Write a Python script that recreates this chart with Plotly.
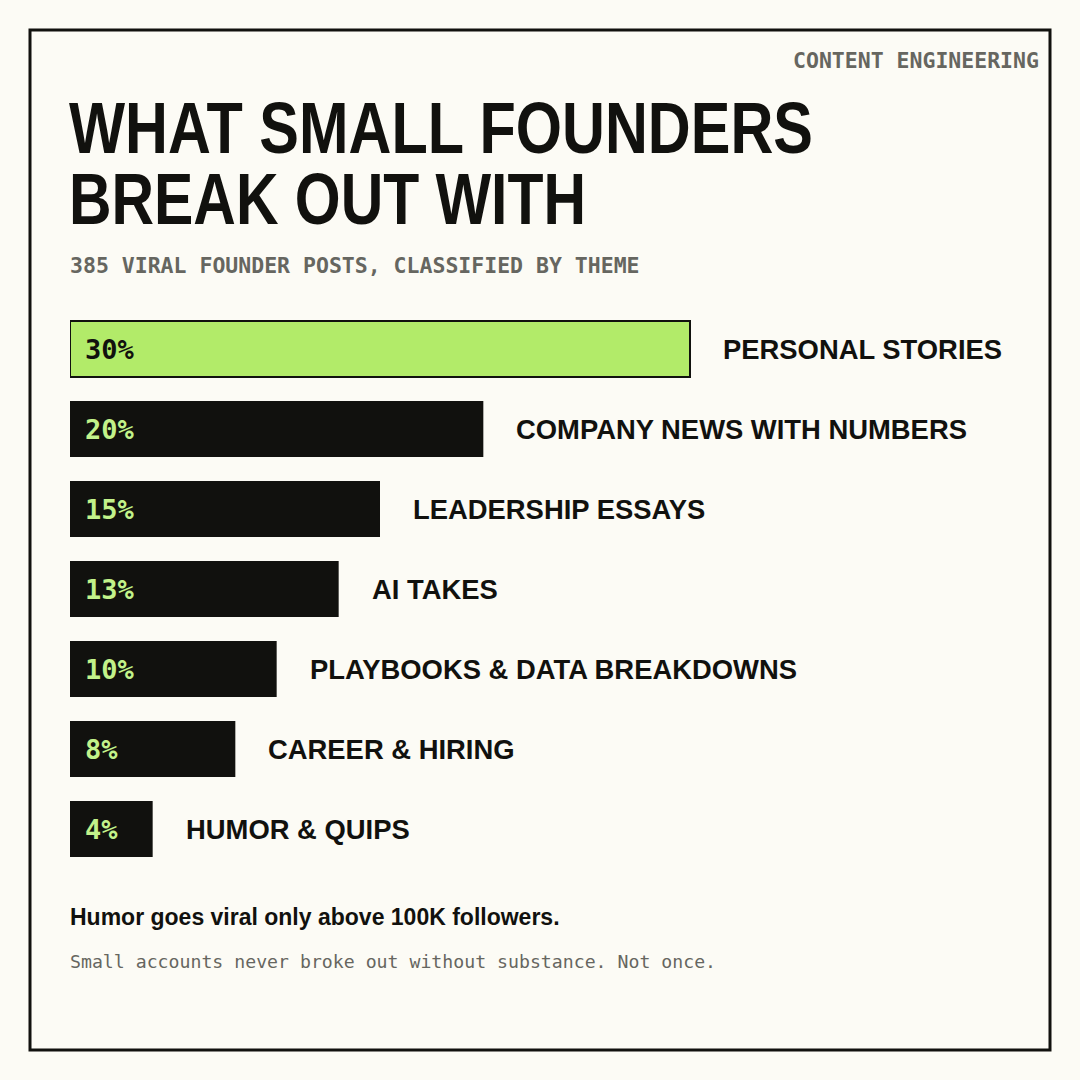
import plotly.graph_objects as go

# data
themes = ["PERSONAL STORIES", "COMPANY NEWS WITH NUMBERS", "LEADERSHIP ESSAYS", "AI TAKES",
          "PLAYBOOKS & DATA BREAKDOWNS", "CAREER & HIRING", "HUMOR & QUIPS"]
shares = [30, 20, 15, 13, 10, 8, 4]
pct_labels = ["30%", "20%", "15%", "13%", "10%", "8%", "4%"]
title_lines = ["WHAT SMALL FOUNDERS", "BREAK OUT WITH"]

BG = "#fcfbf5"
INK = "#11110e"
GREEN = "#b2eb69"
LIGHT_GREEN = "#c2f28a"
GRAY = "#666660"
SANS = "Liberation Sans, Arial, sans-serif"
MONO = "DejaVu Sans Mono, monospace"

W = H = 1080
def px(v):  # pixel -> paper (x)
    return v / W
def py(v):  # pixel -> paper (y), from top
    return 1 - v / H

ys = list(range(len(themes)))
fill = [GREEN] + [INK] * (len(themes) - 1)
line_w = [2] + [0] * (len(themes) - 1)

fig = go.Figure(go.Bar(
    x=shares, y=ys, orientation="h", width=0.7,
    marker=dict(color=fill, line=dict(color=INK, width=line_w)),
    hoverinfo="skip",
))

# px per percent: 620px for 30%
scale = 620 / 30
plot_l, plot_r = 70, 1040
plot_t, plot_b = 309, 869

annos = []
for i, (v, t, p) in enumerate(zip(shares, themes, pct_labels)):
    annos.append(dict(x=0, y=i, xref="x", yref="y", text=p, showarrow=False,
                      xanchor="left", yanchor="middle", xshift=13,
                      font=dict(family=MONO, size=27, color=INK if i == 0 else LIGHT_GREEN, weight="bold")))
    annos.append(dict(x=v, y=i, xref="x", yref="y", text=t, showarrow=False,
                      xanchor="left", yanchor="middle", xshift=31,
                      font=dict(family=SANS, size=27.4, color=INK, weight="bold")))

# texts
annos += [
    dict(x=px(1041), y=py(61), xref="paper", yref="paper", text="CONTENT ENGINEERING",
         showarrow=False, xanchor="right", yanchor="middle",
         font=dict(family=MONO, size=21.5, color=GRAY, weight="bold")),
    dict(x=px(67), y=py(128), xref="paper", yref="paper", text=title_lines[0],
         showarrow=False, xanchor="left", yanchor="middle", align="left",
         font=dict(family=SANS, size=72, color=INK, weight="bold")),
    dict(x=px(67), y=py(199), xref="paper", yref="paper", text=title_lines[1],
         showarrow=False, xanchor="left", yanchor="middle", align="left",
         font=dict(family=SANS, size=72, color=INK, weight="bold")),
    dict(x=px(68), y=py(266), xref="paper", yref="paper",
         text="385 VIRAL FOUNDER POSTS, CLASSIFIED BY THEME",
         showarrow=False, xanchor="left", yanchor="middle",
         font=dict(family=MONO, size=21.5, color=GRAY, weight="bold")),
    dict(x=px(68), y=py(917), xref="paper", yref="paper",
         text="Humor goes viral only above 100K followers.",
         showarrow=False, xanchor="left", yanchor="middle",
         font=dict(family=SANS, size=23, color=INK, weight="bold")),
    dict(x=px(68), y=py(961), xref="paper", yref="paper",
         text="Small accounts never broke out without substance. Not once.",
         showarrow=False, xanchor="left", yanchor="middle",
         font=dict(family=MONO, size=18.2, color=GRAY)),
]

fig.update_layout(
    width=W, height=H,
    margin=dict(l=0, r=0, t=0, b=0),
    paper_bgcolor=BG, plot_bgcolor=BG,
    showlegend=False,
    annotations=annos,
    xaxis=dict(domain=[px(plot_l), px(plot_r)], range=[0, (plot_r - plot_l) / scale],
               visible=False, fixedrange=True),
    yaxis=dict(domain=[py(plot_b), py(plot_t)], range=[len(themes) - 0.5, -0.5],
               visible=False, fixedrange=True),
    shapes=[dict(type="rect", xref="paper", yref="paper",
                 x0=px(30), x1=px(1050), y0=py(30), y1=py(1050),
                 line=dict(color=INK, width=3), fillcolor="rgba(0,0,0,0)", layer="above")],
)

# no narrow bold face installed -> squeeze the headline lines to the condensed width
post = """
document.body.style.margin = '0';
var gd = document.getElementById('{plot_id}');
function squeeze() {
  var widths = {'WHAT SMALL FOUNDERS': 744, 'BREAK OUT WITH': 517};
  gd.querySelectorAll('text.annotation-text').forEach(function (t) {
    var w = widths[t.textContent];
    if (w) {
      t.setAttribute('textLength', w);
      t.setAttribute('lengthAdjust', 'spacingAndGlyphs');
    }
  });
}
squeeze();
gd.on('plotly_afterplot', squeeze);
"""

fig.write_html("out.html", config={"displayModeBar": False}, post_script=post)
